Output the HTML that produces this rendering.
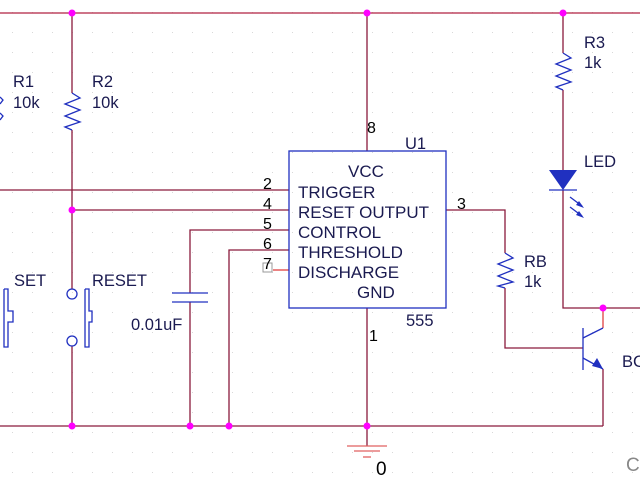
<!DOCTYPE html>
<html><head><style>
html,body{margin:0;padding:0;background:#fff;width:640px;height:480px;overflow:hidden}
svg text{font-family:"Liberation Sans",sans-serif;fill:#1a1a50}
</style></head><body>
<svg width="640" height="480" viewBox="0 0 640 480" xmlns="http://www.w3.org/2000/svg">
<defs>
<pattern id="g" width="20" height="20" patternUnits="userSpaceOnUse" x="3" y="3">
<rect x="9" y="9" width="1" height="1" fill="#d8d8d8"/>
</pattern>
</defs>
<rect width="640" height="480" fill="url(#g)"/>
<g stroke="#8a1a3c" stroke-width="1.3" fill="none">
<line x1="0" y1="13" x2="640" y2="13" stroke="#b02040"/>
<line x1="0" y1="426" x2="603" y2="426"/>
<line x1="72" y1="13" x2="72" y2="93"/>
<line x1="72" y1="130" x2="72" y2="289"/>
<line x1="72" y1="346" x2="72" y2="426"/>
<line x1="0" y1="190" x2="289" y2="190"/>
<line x1="72" y1="210" x2="289" y2="210"/>
<polyline points="289,230 190,230 190,293"/>
<line x1="190" y1="302" x2="190" y2="426"/>
<polyline points="289,250 229,250 229,426"/>
<line x1="273" y1="270" x2="289" y2="270" stroke="#e04040"/>
<line x1="367" y1="13" x2="367" y2="151"/>
<line x1="367" y1="308" x2="367" y2="446"/>
<polyline points="446,210 505,210 505,253"/>
<polyline points="505,288 505,348 583,348"/>
<line x1="563" y1="13" x2="563" y2="53"/>
<line x1="563" y1="90" x2="563" y2="170"/>
<polyline points="563,190 563,308 640,308"/>
<line x1="603" y1="308" x2="603" y2="328" stroke="#e04040"/>
<line x1="603" y1="369" x2="603" y2="426"/>
</g>
<g stroke="#e06060" stroke-width="1.3">
<line x1="347" y1="446" x2="387" y2="446"/>
<line x1="354" y1="451" x2="380" y2="451"/>
<line x1="363" y1="457" x2="371" y2="457"/>
</g>
<g stroke="#2030c0" stroke-width="1.3" fill="none">
<rect x="289" y="151" width="157" height="157"/>
<polyline points="72,93 80,98 65,104 80,110 65,116 80,122 65,127 72,130"/>
<polyline points="563,53 571,58 556,64 571,70 556,76 571,82 556,87 563,90"/>
<polyline points="505,253 513,258 498,264 513,270 498,276 513,282 498,286 505,288"/>
<polyline points="0,97 3,100 0,104"/><polyline points="0,113 3,116 0,120"/>
<line x1="172" y1="293" x2="208" y2="293"/>
<line x1="172" y1="302" x2="208" y2="302"/>
<circle cx="72" cy="294" r="5"/><circle cx="72" cy="341" r="5"/>
<polyline points="85,289 85,347 89,347 89,322 92,322 92,311 89,311 89,289 85,289"/>
<polyline points="4,289 4,347 8,347 8,322 13,322 13,311 8,311 8,289 4,289"/>
<line x1="549" y1="190" x2="577" y2="190"/>
<line x1="583" y1="328" x2="583" y2="370"/>
<line x1="583" y1="338" x2="603" y2="328"/>
<line x1="583" y1="358" x2="603" y2="369"/>
<line x1="570" y1="197" x2="582" y2="206"/>
<line x1="570" y1="207" x2="582" y2="216"/>
</g>
<g fill="#2030c0">
<polygon points="549,170 577,170 563,190"/>
<polygon points="603,369 592,366 597,358"/>
<polygon points="584,208 576,205 579,201"/>
<polygon points="584,218 576,215 579,211"/>
</g>
<rect x="263" y="263" width="9" height="9" fill="none" stroke="#999" stroke-width="1"/>
<g fill="#ff00ff">
<circle cx="72" cy="13" r="3.5"/><circle cx="367" cy="13" r="3.5"/><circle cx="563" cy="13" r="3.5"/>
<circle cx="72" cy="210" r="3.5"/><circle cx="603" cy="308" r="3.5"/>
<circle cx="72" cy="426" r="3.5"/><circle cx="190" cy="426" r="3.5"/><circle cx="229" cy="426" r="3.5"/><circle cx="367" cy="426" r="3.5"/>
</g>
<g font-size="16.5">
<text x="13" y="87">R1</text><text x="13" y="108">10k</text>
<text x="92" y="87">R2</text><text x="92" y="108">10k</text>
<text x="584" y="48">R3</text><text x="584" y="68">1k</text>
<text x="584" y="167">LED</text>
<text x="524" y="267">RB</text><text x="524" y="287">1k</text>
<text x="622" y="367">BC</text>
<text x="14" y="286">SET</text><text x="92" y="286">RESET</text>
<text x="131" y="330">0.01uF</text>
<text x="405" y="149">U1</text><text x="406" y="326">555</text>
</g>
<g font-size="17">
<text x="348" y="177">VCC</text>
<text x="298" y="198">TRIGGER</text>
<text x="298" y="218">RESET OUTPUT</text>
<text x="298" y="238">CONTROL</text>
<text x="298" y="258">THRESHOLD</text>
<text x="298" y="278">DISCHARGE</text>
<text x="357" y="298">GND</text>
</g>
<g font-size="16">
<text x="263" y="189" style="fill:#000">2</text>
<text x="263" y="209" style="fill:#000">4</text>
<text x="263" y="229" style="fill:#000">5</text>
<text x="263" y="249" style="fill:#000">6</text>
<text x="263" y="269" style="fill:#000">7</text>
<text x="367" y="133" style="fill:#000">8</text>
<text x="457" y="209" style="fill:#000">3</text>
<text x="369" y="341" style="fill:#000">1</text>
<text x="376" y="475" font-size="19" style="fill:#000">0</text>
</g>
<text x="626" y="471" font-size="19" style="fill:#888">C</text>
</svg>
</body></html>
